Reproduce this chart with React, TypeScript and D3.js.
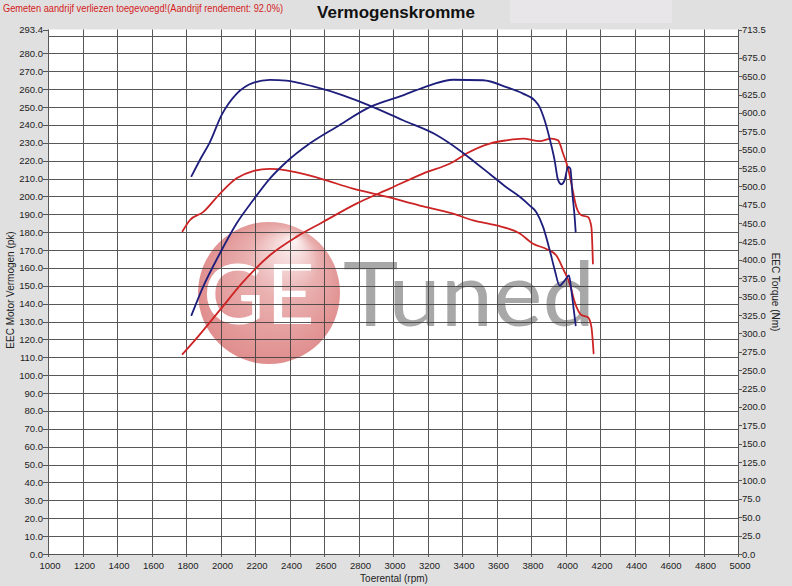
import React from 'react';
import * as d3 from 'd3';

// rpm / value pairs
const bluePower: [number, number][] = [
  [1832, 133.6], [1899, 149.4], [1996, 168.1], [2093, 184.9], [2189, 197.9], [2286, 210.0],
  [2382, 219.3], [2517, 229.6], [2672, 238.9], [2865, 250.0], [3058, 256.6], [3213, 262.2],
  [3348, 265.3], [3522, 265.0], [3657, 261.2], [3754, 257.5], [3821, 253.8], [3850, 250.0],
  [3879, 242.6], [3908, 232.4], [3937, 220.2], [3957, 209.1], [3976, 206.8], [3995, 209.1],
  [4015, 216.5], [4028, 215.6], [4040, 201.6], [4053, 188.5], [4059, 180.2],
];

const blueTorque: [number, number][] = [
  [1832, 514], [1890, 540], [1938, 560], [2006, 597], [2093, 626], [2189, 641], [2286, 645],
  [2382, 644], [2537, 636], [2710, 624], [2865, 610], [3058, 590], [3252, 570], [3387, 549],
  [3464, 535], [3561, 517], [3657, 499], [3735, 486], [3793, 474], [3831, 465], [3870, 445],
  [3909, 413], [3938, 386], [3966, 365], [3995, 372], [4020, 379], [4034, 359], [4048, 332],
  [4059, 311],
];

const redPower: [number, number][] = [
  [1780, 111.8], [1861, 120.6], [1996, 136.4], [2131, 152.2], [2286, 167.1], [2440, 177.4],
  [2594, 185.7], [2788, 196.0], [2981, 204.4], [3174, 212.8], [3348, 219.3], [3426, 224.0],
  [3561, 229.6], [3657, 231.4], [3754, 232.4], [3850, 231.0], [3918, 232.4], [3957, 231.4],
  [3986, 224.0], [4015, 215.6], [4034, 207.2], [4063, 194.1], [4092, 189.5], [4130, 188.5],
  [4150, 183.0], [4159, 162.5],
];

const redTorque: [number, number][] = [
  [1780, 439], [1822, 454], [1899, 465], [1996, 490], [2093, 511], [2189, 521], [2286, 524],
  [2382, 522], [2575, 511], [2768, 497], [2962, 486], [3155, 474], [3348, 463], [3464, 454],
  [3600, 447], [3735, 436], [3812, 422], [3889, 415], [3947, 406], [3986, 388], [4024, 368],
  [4053, 343], [4092, 325], [4130, 322], [4150, 309], [4163, 273],
];

const rpmTicks = d3.range(1000, 5001, 200);
const pkTicks = d3.range(0, 281, 10);
const pkGrid = d3.range(0, 291, 10);
const nmTicks = d3.range(0, 676, 25);
const pkMax = 293.4;
const nmMax = 713.5;

const W = 792;
const H = 586;
const left = 48;
const right = 738;
const top = 29.5;
const bottom = 554;

const font = '"Liberation Sans", Arial, sans-serif';
const crisp = (v: number) => Math.round(v) + 0.5;

export default function App() {
  const x = d3.scaleLinear().domain([1000, 5000]).range([left, right]);
  const yPk = d3.scaleLinear().domain([0, pkMax]).range([bottom, top]);
  const yNm = d3.scaleLinear().domain([0, nmMax]).range([bottom, top]);

  const pkLine = d3.line<[number, number]>().x(d => x(d[0])).y(d => yPk(d[1])).curve(d3.curveMonotoneX);
  const nmLine = d3.line<[number, number]>().x(d => x(d[0])).y(d => yNm(d[1])).curve(d3.curveMonotoneX);

  const blue = '#1e1e7c';
  const red = '#cc2424';

  return (
    <svg width={W} height={H} style={{ position: 'absolute', left: 0, top: 0, display: 'block' }} fontFamily={font}>
      <defs>
        <radialGradient id="wmGrad" cx="50%" cy="50%" r="55%" fx="68%" fy="12%">
          <stop offset="0" stopColor="#fdf4f4" />
          <stop offset="0.45" stopColor="#eab0b0" />
          <stop offset="1" stopColor="#df8a8a" />
        </radialGradient>
      </defs>
      <rect width={W} height={H} fill="#e0e0e0" />
      <rect x={510} y={0} width={162} height={23} fill="#e8e6e8" />

      <text x={3} y={12} fontSize={10} fill="#d42020" textLength={280} lengthAdjust="spacingAndGlyphs">
        Gemeten aandrijf verliezen toegevoegd!(Aandrijf rendement: 92.0%)
      </text>
      <text x={396} y={18} fontSize={17} fontWeight="bold" textAnchor="middle" fill="#111">
        Vermogenskromme
      </text>

      <rect x={left} y={top} width={right - left} height={bottom - top} fill="#fff" />

      {/* watermark */}
      <g>
        <circle cx={269} cy={293} r={71} fill="url(#wmGrad)" />
        <text x={203} y={324} fontSize={84} fontFamily="Lato, sans-serif" fill="#fff" letterSpacing={2}>GE</text>
        <text x={343} y={326} fontSize={90} fontFamily="Lato, sans-serif" fill="#a8a8a8" textLength={252} lengthAdjust="spacingAndGlyphs">Tuned</text>
      </g>

      {/* grid */}
      <g stroke="#3c3c3c" strokeWidth={1} opacity={0.85}>
        {rpmTicks.map(t => (
          <line key={'gx' + t} x1={crisp(x(t))} x2={crisp(x(t))} y1={top} y2={bottom} />
        ))}
        {pkGrid.map(t => (
          <line key={'gy' + t} x1={left} x2={right} y1={crisp(yPk(t))} y2={crisp(yPk(t))} />
        ))}
      </g>

      {/* left axis */}
      <g fontSize={9.5} fill="#222">
        {pkTicks.map(t => (
          <g key={'lt' + t}>
            <line x1={left - 5} x2={left} y1={crisp(yPk(t))} y2={crisp(yPk(t))} stroke="#555" />
            <text x={left - 5} y={yPk(t) + 3.5} textAnchor="end">{t.toFixed(1)}</text>
          </g>
        ))}
        <line x1={left - 5} x2={left} y1={crisp(yPk(pkMax))} y2={crisp(yPk(pkMax))} stroke="#555" />
        <text x={left - 5} y={yPk(pkMax) + 3.5} textAnchor="end">{pkMax.toFixed(1)}</text>
      </g>

      {/* right axis */}
      <g fontSize={9.5} fill="#222">
        {nmTicks.map(t => (
          <g key={'rt' + t}>
            <line x1={right} x2={right + 4} y1={crisp(yNm(t))} y2={crisp(yNm(t))} stroke="#555" />
            <text x={right + 4} y={yNm(t) + 3.5}>{t.toFixed(1)}</text>
          </g>
        ))}
        <line x1={right} x2={right + 4} y1={crisp(yNm(nmMax))} y2={crisp(yNm(nmMax))} stroke="#555" />
        <text x={right + 4} y={yNm(nmMax) + 3.5}>{nmMax.toFixed(1)}</text>
      </g>

      {/* bottom axis */}
      <g fontSize={9.5} fill="#222">
        {rpmTicks.map(t => (
          <g key={'bt' + t}>
            <line x1={crisp(x(t))} x2={crisp(x(t))} y1={bottom} y2={bottom + 3} stroke="#555" />
            <text x={x(t) + 2} y={569} textAnchor="middle">{t}</text>
          </g>
        ))}
      </g>

      <text x={394} y={582} fontSize={10} textAnchor="middle" fill="#222">Toerental (rpm)</text>
      <text transform="translate(14,290) rotate(-90)" fontSize={10} textAnchor="middle" fill="#222">
        EEC Motor Vermogen (pk)
      </text>
      <text transform="translate(772,292) rotate(90)" fontSize={10} textAnchor="middle" fill="#222">
        EEC Torque (Nm)
      </text>

      {/* curves */}
      <g fill="none" strokeWidth={1.8} strokeLinejoin="round" strokeLinecap="round">
        <path d={pkLine(redPower) || ''} stroke={red} />
        <path d={nmLine(redTorque) || ''} stroke={red} />
        <path d={pkLine(bluePower) || ''} stroke={blue} />
        <path d={nmLine(blueTorque) || ''} stroke={blue} />
      </g>
    </svg>
  );
}
